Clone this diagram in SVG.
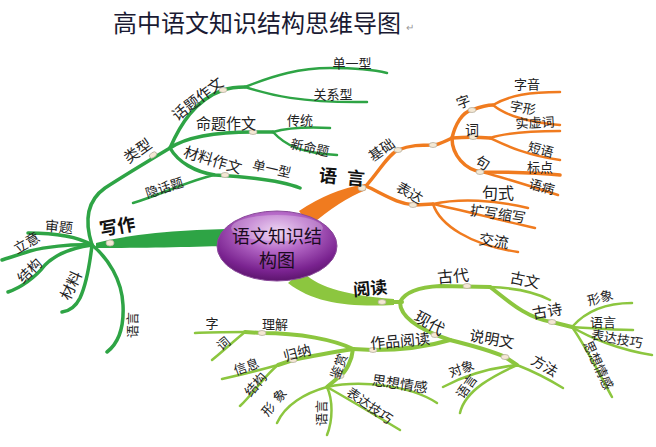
<svg xmlns="http://www.w3.org/2000/svg" width="656" height="447" viewBox="0 0 656 447">
<defs>
<radialGradient id="pg" cx="0.5" cy="0.3" r="0.75">
<stop offset="0" stop-color="#e9c9f0"/>
<stop offset="0.35" stop-color="#b66ac8"/>
<stop offset="0.75" stop-color="#7a2390"/>
<stop offset="1" stop-color="#521061"/>
</radialGradient>
<style>
text{font-family:"Noto Sans CJK SC","Noto Sans",sans-serif;fill:#222;text-anchor:middle;dominant-baseline:central}
.s13{font-size:13px}.s14{font-size:14px}.s15{font-size:15px}.s16{font-size:16px}
.b{font-weight:bold;font-size:18px;fill:#111}
.g{fill:none;stroke:#2ea445;stroke-width:3.5;stroke-linecap:round}
.o{fill:none;stroke:#f07b1f;stroke-width:3.5;stroke-linecap:round}
.l{fill:none;stroke:#8cc63f;stroke-width:4;stroke-linecap:round}
.t{stroke-width:2.5}
.m{fill:#f4e8d4;stroke:#b8b0a0;stroke-width:0.8}
</style>
</defs>
<rect width="656" height="447" fill="#fff"/>
<g id="title">
<text x="113" y="21" style="font-size:24px;text-anchor:start;fill:#1a1a33">高中语文知识结构思维导图</text>
<text x="406" y="26" style="font-size:10px;text-anchor:start;fill:#999">↵</text>
</g>
<g id="connectors">
<path d="M226,229 C190,230 140,232 96,243 L96,248 C140,248 190,247 226,246 Z" fill="#2ea445"/>
<path d="M299,211 Q330,190 365,184 L366,190 Q340,200 310,226 Z" fill="#f07b1f"/>
<path d="M302,271 C315,285 340,295 394,299 L394,305 C350,307 315,304 288,283 Z" fill="#8cc63f"/>
<path class="g" d="M92,245 C84,220 88,200 105,188 C125,175 150,160 170,148"/>
<path class="g" d="M170,148 C180,125 195,100 223,90 C232,87 238,87 245,87"/>
<path class="g t" d="M245,87 C275,75 300,68 330,68 C355,68 375,70 387,73"/>
<path class="g t" d="M245,87 C270,95 300,103 367,102"/>
<path class="g" d="M170,148 C185,138 210,132 253,132 L273,132"/>
<path class="g t" d="M273,132 C290,127 310,127 330,128"/>
<path class="g t" d="M273,132 C285,145 300,153 337,155"/>
<path class="g" d="M170,148 C178,162 195,172 215,175 C250,177 280,180 300,188"/>
<path class="g t" d="M215,175 C190,180 160,195 133,203"/>
<path class="g" d="M92,245 C80,238 60,233 28,233"/>
<path class="g" d="M92,245 C70,244 45,247 30,251 C18,255 8,258 2,260"/>
<path class="g" d="M92,245 C70,248 55,255 45,265 C35,278 20,288 8,292"/>
<path class="g" d="M92,245 C90,262 86,285 80,298 C76,306 70,311 62,312"/>
<path class="g" d="M92,245 C108,258 122,280 123,305 C124,325 120,342 107,352"/>
<path class="o" d="M366,186 C380,170 388,155 398,150 C410,145 420,145 435,145 C442,143 448,140 452,138"/>
<path class="o" d="M452,138 C455,125 462,112 472,110 C480,107 487,105 493,105"/>
<path class="o t" d="M493,105 C510,95 530,92 560,92"/>
<path class="o t" d="M493,105 C505,115 525,122 560,125"/>
<path class="o" d="M452,138 C465,137 478,137 490,138"/>
<path class="o t" d="M490,138 C505,133 530,131 560,131"/>
<path class="o t" d="M490,138 C505,145 525,155 560,160"/>
<path class="o" d="M452,138 C452,155 465,170 482,172 C500,172 530,172 560,175"/>
<path class="o t" d="M482,172 C505,178 530,186 558,195"/>
<path class="o" d="M366,186 C385,195 398,204 415,205 L433,204"/>
<path class="o t" d="M433,204 C460,198 495,200 528,208"/>
<path class="o t" d="M433,204 C460,210 500,220 535,228"/>
<path class="o t" d="M433,204 C440,225 470,245 518,252"/>
<path class="l" d="M392,302 L402,302"/>
<path class="l" d="M400,302 C405,292 420,287 440,286 L490,287"/>
<path class="l t" d="M490,287 C515,288 535,292 550,300"/>
<path class="l" d="M490,287 C505,298 525,318 552,322 L572,327"/>
<path class="l t" d="M572,327 C585,312 605,303 632,303"/>
<path class="l t" d="M572,327 C590,328 610,330 633,330"/>
<path class="l t" d="M572,327 C590,338 620,350 652,355"/>
<path class="l t" d="M572,327 C585,345 600,375 612,397"/>
<path class="l" d="M400,302 C400,318 420,330 450,340"/>
<path class="l" d="M450,340 C470,345 490,350 505,357 L517,365"/>
<path class="l t" d="M517,365 C535,372 550,380 563,388"/>
<path class="l t" d="M517,365 C490,368 465,375 443,387"/>
<path class="l t" d="M517,365 C495,375 465,390 460,413"/>
<path class="l" d="M450,340 C430,346 400,350 373,350 L353,349"/>
<path class="l" d="M353,349 C335,340 300,333 262,333 L245,332"/>
<path class="l t" d="M245,332 C230,332 210,332 195,333"/>
<path class="l t" d="M245,332 C235,340 222,352 212,360"/>
<path class="l" d="M353,349 C335,352 310,356 293,360 L278,365"/>
<path class="l t" d="M278,365 C260,370 240,375 222,379"/>
<path class="l t" d="M278,365 C265,375 252,395 240,406"/>
<path class="l" d="M353,349 C352,360 346,372 340,376 L327,387"/>
<path class="l t" d="M327,387 C305,393 285,405 277,423"/>
<path class="l t" d="M327,387 C333,400 333,420 327,435"/>
<path class="l t" d="M327,387 C350,400 375,415 400,430"/>
<path class="l t" d="M327,387 C360,380 410,385 437,403"/>
<ellipse class="m" cx="110" cy="243" rx="4" ry="3"/>
<ellipse class="m" cx="153" cy="155" rx="4" ry="2.5" transform="rotate(-35 153 155)"/>
<ellipse class="m" cx="223" cy="90" rx="4" ry="2.5"/>
<ellipse class="m" cx="253" cy="132" rx="4" ry="2.5"/>
<ellipse class="m" cx="225" cy="175" rx="4" ry="2.5"/>
<ellipse class="m" cx="362" cy="188" rx="4" ry="3"/>
<ellipse class="m" cx="398" cy="150" rx="4" ry="2.5"/>
<ellipse class="m" cx="433" cy="145" rx="4" ry="2.5"/>
<ellipse class="m" cx="472" cy="110" rx="4" ry="2.5"/>
<ellipse class="m" cx="473" cy="137" rx="4" ry="2.5"/>
<ellipse class="m" cx="480" cy="172" rx="4" ry="2.5"/>
<ellipse class="m" cx="413" cy="205" rx="4" ry="2.5"/>
<ellipse class="m" cx="382" cy="302" rx="4" ry="2.5"/>
<ellipse class="m" cx="467" cy="286" rx="4" ry="2.5"/>
<ellipse class="m" cx="552" cy="322" rx="4" ry="2.5"/>
<ellipse class="m" cx="435" cy="335" rx="4" ry="2.5"/>
<ellipse class="m" cx="505" cy="357" rx="4" ry="2.5"/>
<ellipse class="m" cx="373" cy="350" rx="4" ry="2.5"/>
<ellipse class="m" cx="262" cy="333" rx="4" ry="2.5"/>
<ellipse class="m" cx="293" cy="360" rx="4" ry="2.5"/>
<ellipse class="m" cx="340" cy="376" rx="4" ry="2.5"/>
</g>
<g id="center">
<ellipse cx="277" cy="246" rx="60" ry="35" fill="url(#pg)" stroke="#8a4a9a" stroke-width="1"/>
<ellipse cx="277" cy="228" rx="46" ry="13" fill="#fff" opacity="0.25"/>
<text x="277" y="235" style="font-size:18px;fill:#1a0a20">语文知识结</text>
<text x="277" y="259" style="font-size:18px;fill:#1a0a20">构图</text>
</g>
<g id="writing">
<text class="b" transform="translate(117,225) rotate(-10)">写作</text>
<text class="s15" transform="translate(137,150) rotate(-35)">类型</text>
<text class="s15" transform="translate(197,98) rotate(-38)">话题作文</text>
<text class="s13" transform="translate(352,62)">单一型</text>
<text class="s13" transform="translate(333,93)">关系型</text>
<text class="s15" transform="translate(226,122)">命题作文</text>
<text class="s13" transform="translate(300,119)">传统</text>
<text class="s13" transform="translate(310,147) rotate(12)">新命题</text>
<text class="s15" transform="translate(213,159) rotate(17)">材料作文</text>
<text class="s13" transform="translate(272,168) rotate(13)">单一型</text>
<text class="s13" transform="translate(164,187) rotate(-18)">隐话题</text>
<text class="s14" transform="translate(59,226) rotate(5)">审题</text>
<text class="s14" transform="translate(26,242) rotate(-30)">立意</text>
<text class="s14" transform="translate(29,270) rotate(-45)">结构</text>
<text class="s15" transform="translate(70,285) rotate(-65)">材料</text>
<text class="s13" transform="translate(131,325) rotate(-90)">语言</text>
</g>
<g id="language">
<text class="b" transform="translate(347,176) rotate(5)" style="letter-spacing:10px">语言</text>
<text class="s14" transform="translate(381,149) rotate(-35)">基础</text>
<text class="s14" transform="translate(463,101) rotate(-20)">字</text>
<text class="s13" transform="translate(527,83)">字音</text>
<text class="s13" transform="translate(523,107) rotate(10)">字形</text>
<text class="s14" transform="translate(472,129)">词</text>
<text class="s13" transform="translate(535,122) rotate(-3)">实虚词</text>
<text class="s13" transform="translate(541,149) rotate(15)">短语</text>
<text class="s14" transform="translate(483,162) rotate(30)">句</text>
<text class="s13" transform="translate(540,166)">标点</text>
<text class="s13" transform="translate(542,186) rotate(15)">语病</text>
<text class="s14" transform="translate(410,192) rotate(30)">表达</text>
<text class="s16" transform="translate(498,192)">句式</text>
<text class="s14" transform="translate(498,213) rotate(8)">扩写缩写</text>
<text class="s15" transform="translate(494,240) rotate(8)">交流</text>
</g>
<g id="reading">
<text class="b" transform="translate(370,287) rotate(-5)" style="font-size:17px">阅读</text>
<text class="s16" transform="translate(453,275) rotate(-5)">古代</text>
<text class="s15" transform="translate(525,279) rotate(12)">古文</text>
<text class="s15" transform="translate(547,310) rotate(-10)">古诗</text>
<text class="s13" transform="translate(600,297) rotate(-15)">形象</text>
<text class="s13" transform="translate(603,321)">语言</text>
<text class="s13" transform="translate(617,338) rotate(10)">表达技巧</text>
<text class="s13" transform="translate(599,365) rotate(65)">思想情感</text>
<text class="s16" transform="translate(430,322) rotate(30)">现代</text>
<text class="s15" transform="translate(400,340) rotate(-5)">作品阅读</text>
<text class="s15" transform="translate(492,338) rotate(10)">说明文</text>
<text class="s14" transform="translate(545,365) rotate(30)">方法</text>
<text class="s13" transform="translate(461,368) rotate(-20)">对象</text>
<text class="s13" transform="translate(466,386) rotate(-55)">语言</text>
<text class="s13" transform="translate(275,323)">理解</text>
<text class="s13" transform="translate(212,322)">字</text>
<text class="s13" transform="translate(223,343) rotate(-40)">词</text>
<text class="s14" transform="translate(297,352) rotate(-15)">归纳</text>
<text class="s13" transform="translate(246,366) rotate(-20)">信息</text>
<text class="s13" transform="translate(255,384) rotate(-50)">结构</text>
<text class="s13" transform="translate(338,366) rotate(-70)">鉴赏</text>
<text class="s13" transform="translate(275,400) rotate(-50)" style="letter-spacing:5px">形象</text>
<text class="s13" transform="translate(320,413) rotate(-90)">语言</text>
<text class="s13" transform="translate(370,405) rotate(35)">表达技巧</text>
<text class="s14" transform="translate(400,383) rotate(8)">思想情感</text>
</g>
</svg>
